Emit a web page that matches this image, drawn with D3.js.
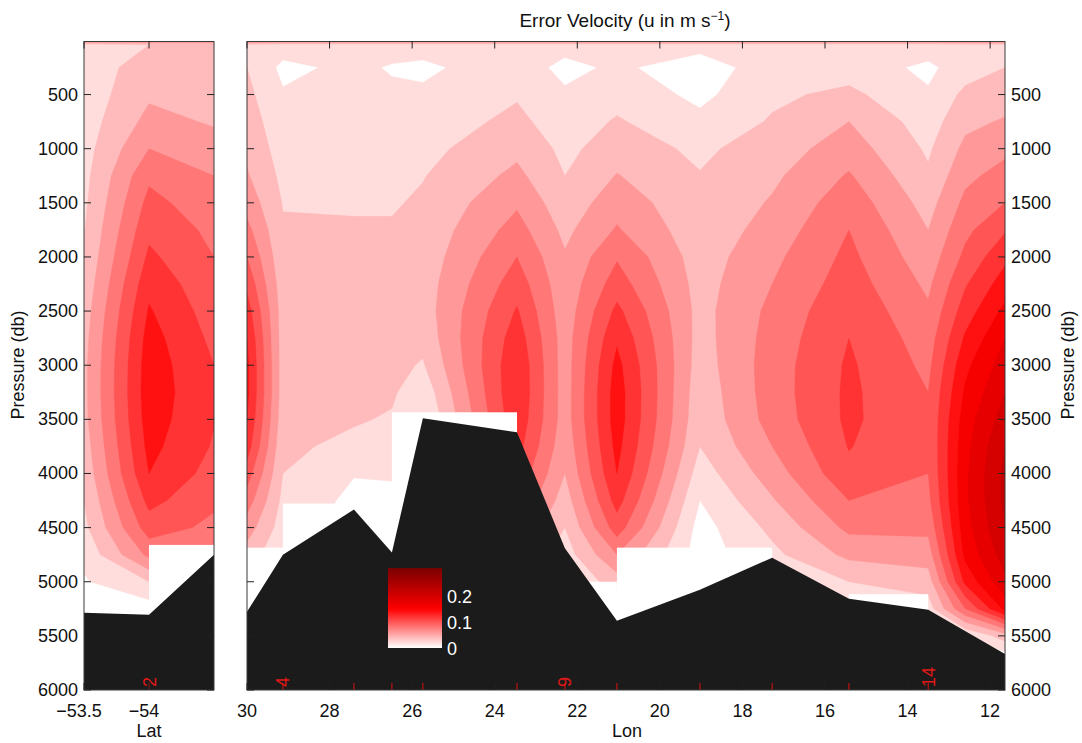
<!DOCTYPE html>
<html><head><meta charset="utf-8">
<script src="https://cdn.jsdelivr.net/npm/d3@7"></script>
<style>
body{margin:0;background:#fff}
text{font-family:"Liberation Sans",Arial,Helvetica,sans-serif}
</style>
</head><body>
<svg id="c" width="1082" height="743"></svg>
<script>
// ---------- DATA ----------
// pressure levels (db) of the gridded field
const pressures = [0,40,250,500,750,1000,1250,1500,1750,2000,2250,2500,2750,3000,3250,3500,3750,4000,4250,4500,4750,5000,5250,5500,5750,6000];
const contourLevels = [0.02,0.04,0.06,0.08,0.10,0.12,0.14,0.16,0.18,0.20,0.22,0.24,0.26,0.28];

// Lat section (left panel)
const latStations = [-53.5,-54,-54.5];
const latField = [
  [0.09,0.03,0.026,0.028,0.03,0.032,0.034,0.036,0.039,0.042,0.046,0.05,0.053,0.055,0.055,0.054,0.05,0.046,0.04,0.035,0.025,0.018,0.01,0.005,0,0],
  [0.09,0.04,0.052,0.057,0.066,0.08,0.096,0.106,0.115,0.124,0.134,0.142,0.148,0.151,0.152,0.15,0.146,0.14,0.126,0.11,0.085,0.04,0.01,0,0,0],
  [0.09,0.04,0.045,0.05,0.058,0.068,0.08,0.088,0.095,0.1,0.105,0.11,0.115,0.12,0.122,0.121,0.118,0.112,0.104,0.095,0.08,0.06,0.04,0.02,0,0]
];
const latBathy = [[-53.5,5287],[-54,5306],[-54.5,4750]];
const latBlank = [[-53.5,-54,5190],[-54,-54.5,4660]];
const latTicks = [-53.5,-54];
const latStationMarks = [[-54,"2"]];

// Lon section (right panel)
const lonStations = [30,29.13,27.41,26.49,25.74,23.46,22.30,21.04,19.03,17.28,15.42,13.50,12.60,11.64];
const lonField = [
  [0.09,0.035,0.04,0.045,0.05,0.055,0.062,0.072,0.086,0.1,0.115,0.13,0.14,0.145,0.145,0.14,0.13,0.11,0.09,0.07,0.05,0.03,0.02,0.01,0,0],
  [0.09,0.03,0.015,0.022,0.027,0.031,0.035,0.039,0.042,0.045,0.048,0.05,0.05,0.05,0.05,0.048,0.044,0.04,0.035,0.03,0.025,0.02,0.01,0,0,0],
  [0.09,0.03,0.025,0.028,0.03,0.032,0.035,0.038,0.042,0.045,0.046,0.046,0.046,0.046,0.045,0.042,0.035,0.021,0.015,0.012,0.01,0.01,0,0,0,0],
  [0.09,0.03,0.018,0.024,0.028,0.032,0.035,0.038,0.042,0.045,0.047,0.048,0.047,0.046,0.043,0.038,0.03,0.022,0.015,0.01,0.01,0.01,0,0,0,0],
  [0.09,0.03,0.015,0.024,0.029,0.034,0.039,0.043,0.046,0.048,0.05,0.05,0.046,0.038,0.026,0.018,0.012,0.01,0.01,0.01,0,0,0,0,0,0],
  [0.09,0.03,0.035,0.038,0.045,0.055,0.065,0.077,0.088,0.1,0.111,0.122,0.131,0.137,0.138,0.135,0.128,0.115,0.1,0.08,0.06,0.04,0.02,0,0,0],
  [0.09,0.03,0.012,0.024,0.029,0.035,0.04,0.047,0.055,0.062,0.066,0.068,0.07,0.07,0.07,0.07,0.066,0.06,0.05,0.04,0.03,0.02,0.01,0,0,0],
  [0.09,0.03,0.025,0.033,0.042,0.05,0.061,0.072,0.082,0.098,0.11,0.125,0.137,0.146,0.15,0.15,0.146,0.14,0.128,0.11,0.08,0.05,0.02,0,0,0],
  [0.09,0.03,0.005,0.015,0.025,0.036,0.041,0.044,0.047,0.05,0.052,0.053,0.052,0.05,0.047,0.045,0.04,0.03,0.02,0.012,0.01,0.01,0,0,0,0],
  [0.09,0.03,0.035,0.036,0.042,0.05,0.056,0.062,0.068,0.075,0.08,0.085,0.088,0.09,0.09,0.088,0.08,0.07,0.058,0.045,0.035,0.025,0.015,0,0,0],
  [0.09,0.03,0.03,0.045,0.06,0.07,0.082,0.092,0.1,0.105,0.11,0.116,0.12,0.123,0.124,0.124,0.121,0.115,0.1,0.085,0.065,0.04,0.02,0,0,0],
  [0.09,0.03,0.016,0.022,0.03,0.037,0.043,0.052,0.06,0.068,0.076,0.083,0.09,0.095,0.1,0.102,0.102,0.1,0.095,0.085,0.07,0.05,0.03,0.01,0,0],
  [0.09,0.033,0.03,0.045,0.055,0.065,0.075,0.085,0.095,0.105,0.118,0.13,0.143,0.155,0.163,0.17,0.174,0.176,0.176,0.172,0.165,0.145,0.1,0.02,0,0],
  [0.09,0.035,0.04,0.05,0.062,0.075,0.088,0.1,0.118,0.135,0.15,0.165,0.18,0.19,0.2,0.21,0.22,0.225,0.225,0.22,0.21,0.195,0.165,0.05,0,0]
];
const lonBathy = [[30,5278],[29.13,4750],[27.41,4333],[26.49,4731],[25.74,3491],[23.46,3620],[22.30,4690],[21.04,5361],[19.03,5074],[17.28,4778],[15.42,5157],[13.50,5259],[11.64,5667]];
const lonBlank = [[30,29.13,4685],[29.13,26.49,4278],[26.49,23.46,3435],[22.30,21.04,5000],[21.04,17.28,4685],[15.42,13.50,5115]];
const lonTicks = [30,28,26,24,22,20,18,16,14,12];
const lonStationMarks = [[29.13,"4"],[27.41,""],[26.49,""],[25.74,""],[23.46,""],[22.30,"9"],[21.04,""],[19.03,""],[17.28,""],[15.42,""],[13.50,"14"]];

const pressureTicks = [500,1000,1500,2000,2500,3000,3500,4000,4500,5000,5500,6000];
const colorbarTicks = [0,0.1,0.2];

// ---------- SCALES ----------
const svg = d3.select("#c");
const y = d3.scaleLinear().domain([10,6000]).range([41.5,690]);
const xLat = d3.scaleLinear().domain([-53.5,-54.5]).range([84,214]);
const xLon = d3.scaleLinear().domain([30,11.64]).range([247,1005]);
const cmap = d3.scaleLinear().domain([0,0.15,0.3]).range(["#ffffff","#ff0000","#800000"]).clamp(true);
const FS = 18;

function panel(id, x, stations, field, bathy, blanks, marks, ticks, tickFmt, tickDx){
  const [x0,x1] = x.range();
  const y0 = y.range()[0], y1 = y.range()[1];
  svg.append("clipPath").attr("id",id).append("rect")
    .attr("x",x0).attr("y",y0).attr("width",x1-x0).attr("height",y1-y0);
  const gc = svg.append("g").attr("clip-path",`url(#${id})`);
  gc.append("rect").attr("x",x0).attr("y",y0).attr("width",x1-x0).attr("height",y1-y0).attr("fill","#fff");

  const nx = stations.length, ny = pressures.length;
  const vals = [];
  for(let j=0;j<ny;j++) for(let i=0;i<nx;i++) vals.push(field[i][j]);
  const ix = d3.scaleLinear().domain(d3.range(nx)).range(stations).clamp(true);
  const iy = d3.scaleLinear().domain(d3.range(ny)).range(pressures).clamp(true);
  const proj = p => [x(ix(p[0]-0.5)), y(iy(p[1]-0.5))];
  const cs = d3.contours().size([nx,ny]).thresholds(contourLevels)(vals);
  gc.selectAll("path.band").data(cs).join("path").attr("class","band")
    .attr("d", c => c.coordinates.map(poly => poly.map(ring =>
        "M" + ring.map(p => proj(p).map(v=>v.toFixed(2)).join(",")).join("L") + "Z").join("")).join(""))
    .attr("fill", c => cmap(c.value))
    .attr("fill-rule","evenodd")
    .attr("stroke", c => cmap(c.value)).attr("stroke-width",0.4);

  // blanked (no data) cells
  gc.selectAll("rect.blank").data(blanks).join("rect").attr("class","blank")
    .attr("x", d => Math.min(x(d[0]),x(d[1])))
    .attr("width", d => Math.abs(x(d[1])-x(d[0])))
    .attr("y", d => y(d[2])).attr("height", d => y(6000)-y(d[2]))
    .attr("fill","#fff");

  // bathymetry
  const area = d3.area().x(d=>x(d[0])).y0(y(6000)).y1(d=>y(d[1]));
  gc.append("path").datum(bathy).attr("d",area).attr("fill","#1b1b1b");

  // station marks
  const gm = svg.append("g");
  gm.selectAll("line").data(marks).join("line")
    .attr("x1",d=>x(d[0])).attr("x2",d=>x(d[0])).attr("y1",y1).attr("y2",y1-7)
    .attr("stroke","#e01010").attr("stroke-width",1);
  gm.selectAll("text").data(marks.filter(d=>d[1])).join("text")
    .attr("transform",d=>`translate(${x(d[0])+6.5},${y1-3}) rotate(-90)`)
    .attr("fill","#e01818").attr("font-size",18).text(d=>d[1]);

  // frame
  svg.append("rect").attr("x",x0).attr("y",y0).attr("width",x1-x0).attr("height",y1-y0)
    .attr("fill","none").attr("stroke","#3a3a3a").attr("stroke-width",1);

  // y ticks (inside, both sides)
  const gy = svg.append("g");
  pressureTicks.forEach(p=>{
    gy.append("line").attr("x1",x0).attr("x2",x0+7).attr("y1",y(p)).attr("y2",y(p)).attr("stroke","#222");
    gy.append("line").attr("x1",x1-7).attr("x2",x1).attr("y1",y(p)).attr("y2",y(p)).attr("stroke","#222");
  });
  // x ticks (inside, top & bottom) + labels
  const gx = svg.append("g");
  ticks.forEach(t=>{
    gx.append("line").attr("x1",x(t)).attr("x2",x(t)).attr("y1",y1).attr("y2",y1-7).attr("stroke","#222");
    gx.append("line").attr("x1",x(t)).attr("x2",x(t)).attr("y1",y0).attr("y2",y0+7).attr("stroke","#222");
    gx.append("text").attr("x",x(t)+tickDx).attr("y",716.5).attr("text-anchor","middle")
      .attr("font-size",FS).attr("fill","#111").text(tickFmt(t));
  });
}

panel("clipLat", xLat, latStations, latField, latBathy, latBlank, latStationMarks, latTicks,
      t => (t<0?"\u2212":"") + Math.abs(t), -5);
panel("clipLon", xLon, lonStations, lonField, lonBathy, lonBlank, lonStationMarks, lonTicks,
      t => String(t), 0);

// y tick labels
svg.append("g").selectAll("text").data(pressureTicks).join("text")
  .attr("x",78).attr("y",p=>y(p)+6).attr("text-anchor","end").attr("font-size",FS).attr("fill","#111").text(p=>p);
svg.append("g").selectAll("text").data(pressureTicks).join("text")
  .attr("x",1011).attr("y",p=>y(p)+6).attr("text-anchor","start").attr("font-size",FS).attr("fill","#111").text(p=>p);

// axis labels
svg.append("text").attr("transform","translate(24,365) rotate(-90)").attr("text-anchor","middle")
  .attr("font-size",FS).attr("fill","#111").text("Pressure (db)");
svg.append("text").attr("transform","translate(1074,365) rotate(-90)").attr("text-anchor","middle")
  .attr("font-size",FS).attr("fill","#111").text("Pressure (db)");
svg.append("text").attr("x",149).attr("y",737).attr("text-anchor","middle").attr("font-size",FS).attr("fill","#111").text("Lat");
svg.append("text").attr("x",627).attr("y",737).attr("text-anchor","middle").attr("font-size",FS).attr("fill","#111").text("Lon");

// title
const title = svg.append("text").attr("x",625).attr("y",27).attr("text-anchor","middle").attr("font-size",19).attr("fill","#111");
title.append("tspan").text("Error Velocity (u in m s");
title.append("tspan").attr("dy",-7).attr("font-size",12).text("\u22121");
title.append("tspan").attr("dy",7).text(")");

// colorbar
const cb = d3.scaleLinear().domain([0,0.3]).range([648,570]);
const cbTop = 0.307;
const defs = svg.append("defs");
const grad = defs.append("linearGradient").attr("id","cbg").attr("x1",0).attr("y1",1).attr("x2",0).attr("y2",0);
d3.range(0,cbTop+0.0001,cbTop/30).forEach(v=>{
  grad.append("stop").attr("offset",v/cbTop).attr("stop-color",cmap(v));
});
svg.append("rect").attr("x",388).attr("y",cb(cbTop)).attr("width",54).attr("height",cb(0)-cb(cbTop)).attr("fill","url(#cbg)");
svg.append("g").selectAll("text").data(colorbarTicks).join("text")
  .attr("x",447).attr("y",v=>cb(v)+7).attr("font-size",FS).attr("fill","#fff").text(v=>v===0?"0":v.toFixed(1));
</script>
</body></html>
